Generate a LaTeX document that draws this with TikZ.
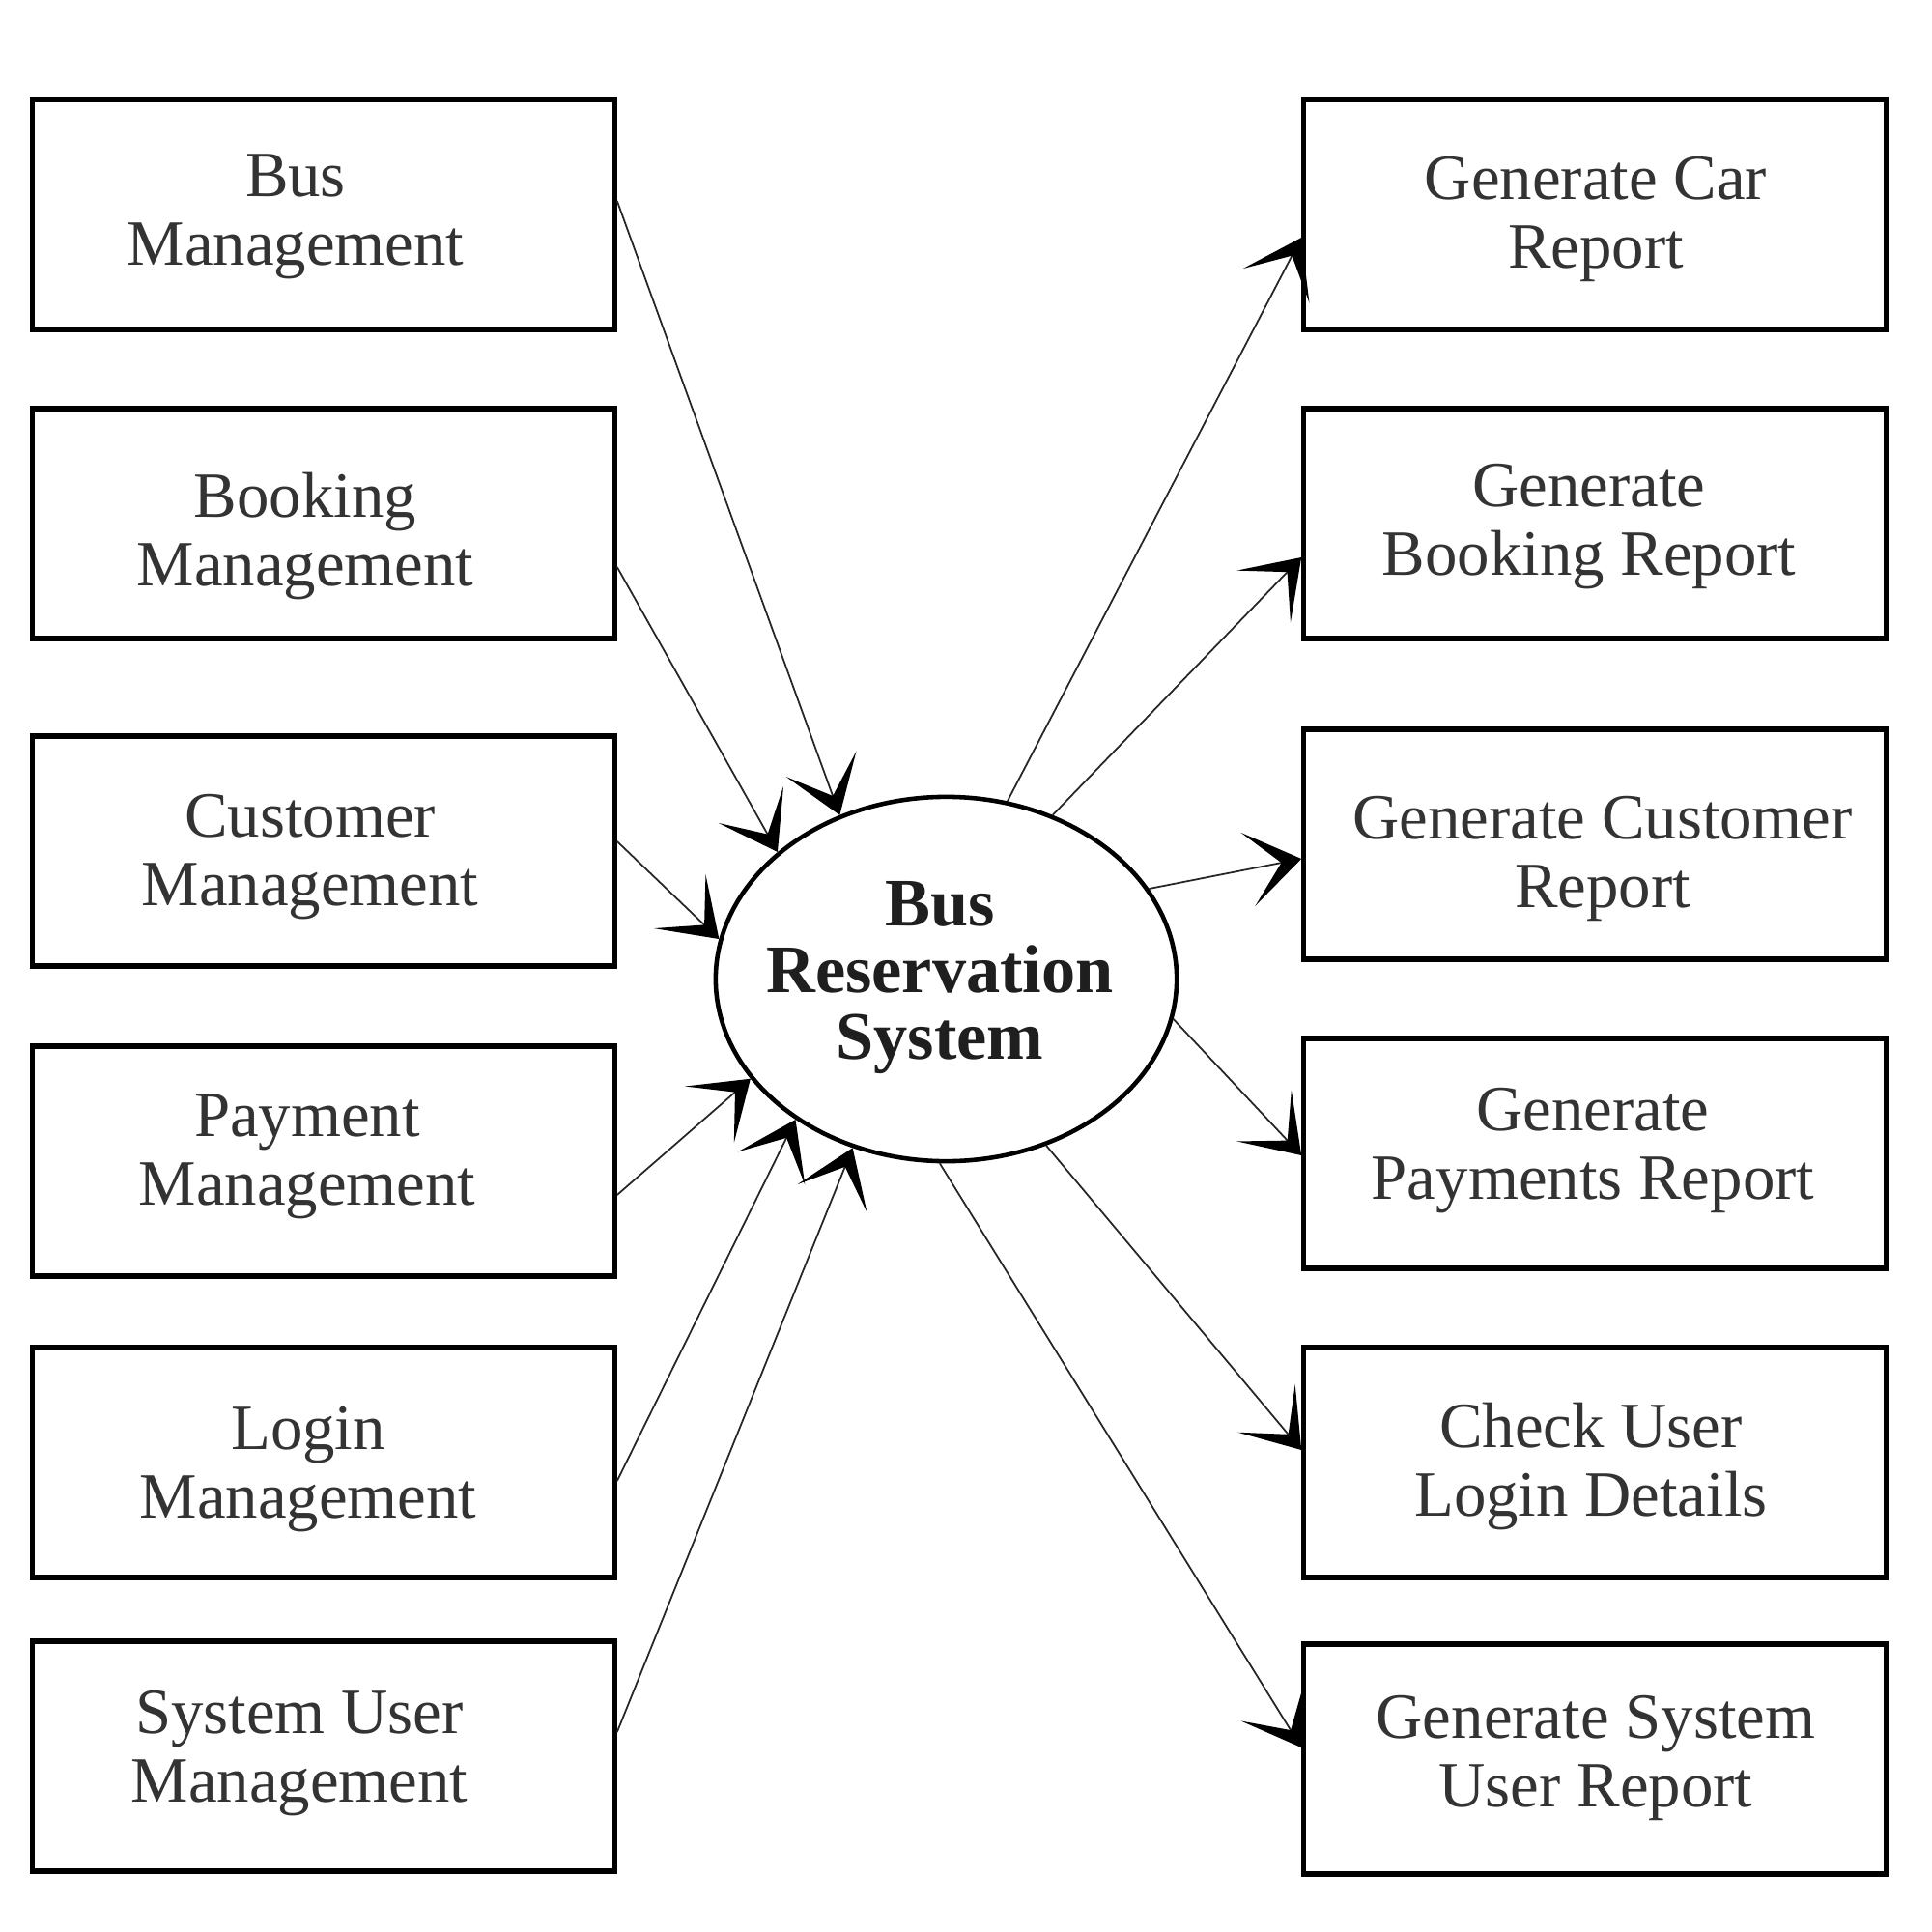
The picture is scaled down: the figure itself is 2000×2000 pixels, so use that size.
\documentclass[tikz,border=0pt]{standalone}
\usepackage{fontspec}
\setmainfont{Liberation Serif}
\usetikzlibrary{arrows.meta,shapes.geometric,calc}
\begin{document}
\begin{tikzpicture}[x=0.01cm,y=-0.01cm,
  box/.style={draw=black,line width=1.5pt,minimum width=6.02cm,minimum height=2.38cm,inner sep=0pt},
  lbl/.style={align=center,font=\fontsize{19}{20.2}\selectfont,text=black!80,inner sep=0pt},
  conn/.style={line width=0.5pt,draw=black!85,-{Stealth[length=16pt,width=22pt,inset=10pt,color=black]}}]
\useasboundingbox (0,0) rectangle (2000,2000);
\fill[white] (0,0) rectangle (2000,2000);

% left boxes
\node[box] (L1) at (335,222) {};
\node[box] (L2) at (335,542) {};
\node[box] (L3) at (335,881) {};
\node[box] (L4) at (335,1202) {};
\node[box] (L5) at (335,1514) {};
\node[box] (L6) at (335,1818) {};
% right boxes
\node[box] (R1) at (1651,222) {};
\node[box] (R2) at (1651,542) {};
\node[box] (R3) at (1651,874) {};
\node[box] (R4) at (1651,1194) {};
\node[box] (R5) at (1651,1514) {};
\node[box] (R6) at (1651,1821) {};

% labels
\node[lbl] (tL1) at (306,224) {Bus\\Management};
\node[lbl] (tL2) at (316,555) {Booking\\Management};
\node[lbl] (tL3) at (321,887) {Customer\\Management};
\node[lbl] (tL4) at (318,1197) {Payment\\Management};
\node[lbl] (tL5) at (319,1521) {Login\\Management};
\node[lbl] (tL6) at (310,1815) {System User\\Management};
\node[lbl] (tR1) at (1652,227) {Generate Car\\Report};
\node[lbl] (tR2) at (1645,545) {Generate\\Booking Report};
\node[lbl] (tR3) at (1659,889) {Generate Customer\\Report};
\node[lbl] (tR4) at (1649,1191) {Generate\\Payments Report};
\node[lbl] (tR5) at (1647,1518) {Check User\\Login Details};
\node[lbl] (tR6) at (1652,1820) {Generate System\\User Report};

% centre
\node[ellipse,draw=black,line width=1.3pt,minimum width=4.77cm,minimum height=3.77cm,inner sep=0pt] (S) at (979.5,1013.5) {};
\node[align=center,font=\bfseries\fontsize{20}{19.6}\selectfont,text=black!88,inner sep=0pt] (tS) at (973,1012)
  {Bus\\Reservation\\System};

% incoming
\draw[conn] ($(L1.east)+(0,-14)$) -- (S.123.9);
\draw[conn] ($(L2.east)+(0,45)$) -- (S.143.4);
\draw[conn] ($(L3.east)+(0,-10)$) -- (S.170.1);
\draw[conn] ($(L4.east)+(0,35)$) -- (S.207.4);
\draw[conn] ($(L5.east)+(0,19)$) -- (S.223.3);
\draw[conn] ($(L6.east)+(0,-25)$) -- (S.241.7);
% outgoing
\draw[conn] (S.71.3) -- ($(R1.west)+(0,24)$);
\draw[conn] (S.57.7) -- ($(R2.west)+(0,35)$);
\draw[conn] (S.24.0) -- ($(R3.west)+(0,15)$);
\draw[conn] (S.-10.0) -- ($(R4.west)+(0,2)$);
\draw[conn] (S.-59.9) -- ($(R5.west)+(0,-13)$);
\draw[conn] (S.-92) -- ($(R6.west)+(0,-12)$);
\end{tikzpicture}
\end{document}
